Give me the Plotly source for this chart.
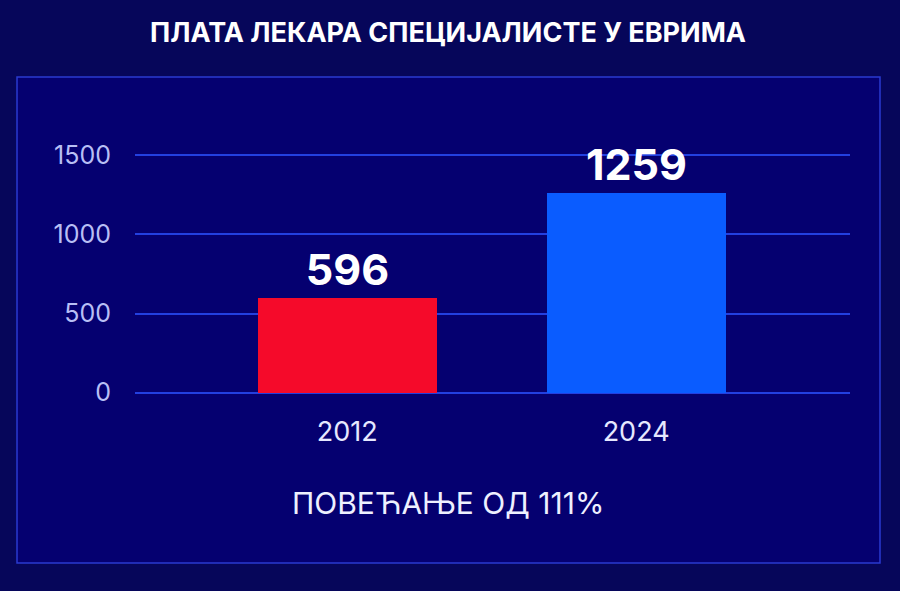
import plotly.graph_objects as go

years = ["2012", "2024"]
salaries = [596, 1259]
bar_colors = ["#f50a2a", "#0a5cff"]
y_ticks = [0, 500, 1000, 1500]

fig = go.Figure(go.Bar(
    x=[0, 1],
    y=salaries,
    width=0.62,
    marker=dict(color=bar_colors, line=dict(width=0)),
    text=[str(v) for v in salaries],
    textposition="outside",
    textfont=dict(size=43, color="white", family="Inter", weight="bold"),
    cliponaxis=False,
))

# panel with a thin border
fig.add_shape(type="rect", xref="paper", yref="paper",
              x0=-118 / 715, x1=30 / 715 + 1, y0=-168 / 242, y1=1 + 76 / 242,
              line=dict(color="#2a3ad0", width=1.5), fillcolor="#050070", layer="below")

fig.add_annotation(text="<b>ПЛАТА ЛЕКАРА СПЕЦИЈАЛИСТЕ У ЕВРИМА</b>", xref="paper", yref="paper",
                   x=(448 - 135) / 715, y=1 + 120 / 242, showarrow=False,
                   font=dict(size=27, color="white", family="Inter"), yanchor="middle")
fig.add_annotation(text="ПОВЕЋАЊЕ ОД 111%", xref="paper", yref="paper",
                   x=(448 - 135) / 715, y=-108 / 242, showarrow=False,
                   font=dict(size=30, color="#eef0ff", family="Inter"), yanchor="middle")

fig.update_layout(
    width=900, height=591,
    margin=dict(l=135, r=50, t=153, b=196),
    paper_bgcolor="#06065a",
    plot_bgcolor="rgba(0,0,0,0)",
    showlegend=False,
    font=dict(family="Inter", color="white"),
    bargap=0,
)
fig.update_xaxes(range=[-0.734, 1.74], tickvals=[0, 1], ticktext=years, showgrid=False,
                 zeroline=False, showline=False, tickfont=dict(size=27, color="#e6e8ff"),
                 ticks="", ticklabelstandoff=18)
fig.update_yaxes(range=[-15, 1515], tickvals=y_ticks, gridcolor="#2340e0", gridwidth=1.5,
                 zeroline=False, showline=False, tickfont=dict(size=25, color="#b8bff5"),
                 ticks="", ticklabelstandoff=23)

fig.write_html("out.html", config={"displayModeBar": False},
               post_script="document.body.style.margin='0';")
